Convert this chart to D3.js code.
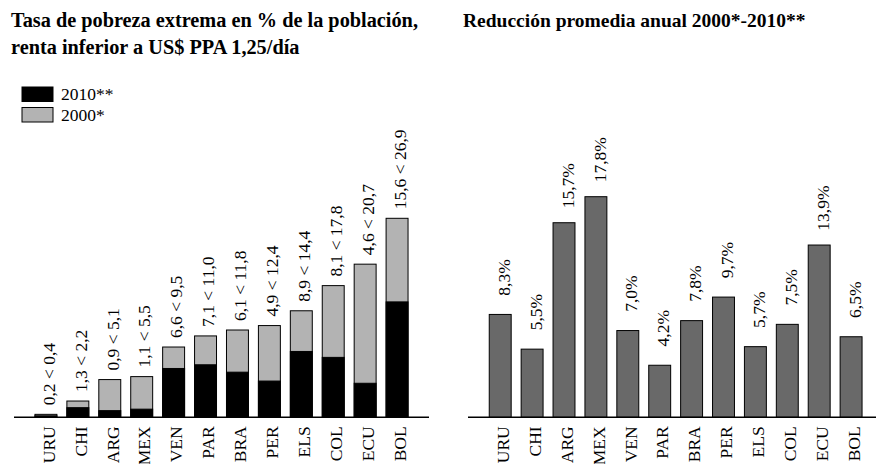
<!DOCTYPE html>
<html>
<head>
<meta charset="utf-8">
<script src="https://cdn.jsdelivr.net/npm/d3@7"></script>
</head>
<body style="margin:0">
<script>
// data
var countries = ["URU","CHI","ARG","MEX","VEN","PAR","BRA","PER","ELS","COL","ECU","BOL"];
var rate2010  = [0.2, 1.3, 0.9, 1.1, 6.6, 7.1, 6.1, 4.9, 8.9, 8.1, 4.6, 15.6];
var rate2000  = [0.4, 2.2, 5.1, 5.5, 9.5, 11.0, 11.8, 12.4, 14.4, 17.8, 20.7, 26.9];
var reduction = [8.3, 5.5, 15.7, 17.8, 7.0, 4.2, 7.8, 9.7, 5.7, 7.5, 13.9, 6.5];
var legendLabels = ["2010**", "2000*"];

var W = 876, H = 464, baseY = 417.3, fs = 17.5;
var fmt = function(v) { return d3.format(".1f")(v).replace(".", ","); };

var svg = d3.select("body").append("svg")
    .attr("width", W)
    .attr("height", H);

// titles
function title(x, y, size, s) {
  svg.append("text").attr("x", x).attr("y", y)
    .attr("font-size", size)
    .attr("font-weight", "bold")
    .style("font-family", "'Liberation Serif'")
    .text(s);
}
title(11, 27, 20.3, "Tasa de pobreza extrema en % de la población,");
title(11, 54, 20.3, "renta inferior a US$ PPA 1,25/día");
title(463, 27, 19.5, "Reducción promedia anual 2000*-2010**");

//--------- left chart: overlapped bars
var xL = d3.scaleBand().domain(countries).range([19, 424]).paddingInner(0.3125).paddingOuter(0.5);
var yL = d3.scaleLinear().domain([0, 26.9]).range([baseY, 218.3]);

var left = svg.append("g");
left.selectAll("rect.old")
  .data(countries)
  .enter().append("rect")
    .attr("class", "old")
    .attr("x", function(d) { return xL(d); })
    .attr("width", xL.bandwidth())
    .attr("y", function(d, i) { return yL(rate2000[i]); })
    .attr("height", function(d, i) { return baseY - yL(rate2000[i]); })
    .attr("fill", "#b3b3b3")
    .attr("stroke", "#000")
    .attr("stroke-width", 1);

left.selectAll("rect.new")
  .data(countries)
  .enter().append("rect")
    .attr("class", "new")
    .attr("x", function(d) { return xL(d); })
    .attr("width", xL.bandwidth())
    .attr("y", function(d, i) { return yL(rate2010[i]); })
    .attr("height", function(d, i) { return baseY - yL(rate2010[i]); })
    .attr("fill", "#000")
    .attr("stroke", "#000")
    .attr("stroke-width", 1);

// value labels (rotated)
left.selectAll("text.val")
  .data(countries)
  .enter().append("text")
    .attr("class", "val")
    .attr("transform", function(d, i) {
      var cx = xL(d) + xL.bandwidth() / 2;
      return "translate(" + cx + "," + (yL(rate2000[i]) - 9) + ") rotate(-90)";
    })
    .attr("dy", "0.5em")
    .attr("font-size", fs)
    .style("font-family", "'Liberation Serif'")
    .text(function(d, i) { return fmt(rate2010[i]) + " < " + fmt(rate2000[i]); });

left.append("line")
    .attr("x1", 14).attr("x2", 429)
    .attr("y1", baseY).attr("y2", baseY)
    .attr("stroke", "#000").attr("stroke-width", 1.5);

left.selectAll("text.cat")
  .data(countries)
  .enter().append("text")
    .attr("class", "cat")
    .attr("text-anchor", "end")
    .attr("transform", function(d) {
      return "translate(" + (xL(d) + xL.bandwidth() / 2) + "," + (baseY + 9) + ") rotate(-90)";
    })
    .attr("dy", "0.5em")
    .attr("font-size", fs)
    .style("font-family", "'Liberation Serif'")
    .text(function(d) { return d; });

// legend
var legend = svg.append("g");
legend.selectAll("rect")
  .data(legendLabels)
  .enter().append("rect")
    .attr("x", 22)
    .attr("y", function(d, i) { return 87 + i * 20.5; })
    .attr("width", 31)
    .attr("height", 14.5)
    .attr("fill", function(d, i) { return i === 0 ? "#000" : "#b3b3b3"; })
    .attr("stroke", "#000")
    .attr("stroke-width", 1);
legend.selectAll("text")
  .data(legendLabels)
  .enter().append("text")
    .attr("x", 61)
    .attr("y", function(d, i) { return 100 + i * 20.5; })
    .attr("font-size", fs)
    .style("font-family", "'Liberation Serif'")
    .text(function(d) { return d; });

//--------- right chart: average annual reduction
var xR = d3.scaleBand().domain(countries).range([473.3, 878]).paddingInner(0.3125).paddingOuter(0.5);
var yR = d3.scaleLinear().domain([0, 17.8]).range([baseY, 196.7]);

var right = svg.append("g");
right.selectAll("rect")
  .data(countries)
  .enter().append("rect")
    .attr("x", function(d) { return xR(d); })
    .attr("width", xR.bandwidth())
    .attr("y", function(d, i) { return yR(reduction[i]); })
    .attr("height", function(d, i) { return baseY - yR(reduction[i]); })
    .attr("fill", "#696969")
    .attr("stroke", "#000")
    .attr("stroke-width", 1);

right.selectAll("text.val")
  .data(countries)
  .enter().append("text")
    .attr("class", "val")
    .attr("text-anchor", "middle")
    .attr("transform", function(d, i) {
      var cx = xR(d) + xR.bandwidth() / 2;
      return "translate(" + cx + "," + (yR(reduction[i]) - 37) + ") rotate(-90)";
    })
    .attr("dy", "0.55em")
    .attr("font-size", fs)
    .style("font-family", "'Liberation Serif'")
    .text(function(d, i) { return fmt(reduction[i]) + "%"; });

right.append("line")
    .attr("x1", 468).attr("x2", W)
    .attr("y1", baseY).attr("y2", baseY)
    .attr("stroke", "#000").attr("stroke-width", 1.5);

right.selectAll("text.cat")
  .data(countries)
  .enter().append("text")
    .attr("class", "cat")
    .attr("text-anchor", "end")
    .attr("transform", function(d) {
      return "translate(" + (xR(d) + xR.bandwidth() / 2) + "," + (baseY + 9) + ") rotate(-90)";
    })
    .attr("dy", "0.5em")
    .attr("font-size", fs)
    .style("font-family", "'Liberation Serif'")
    .text(function(d) { return d; });
</script>
</body>
</html>
